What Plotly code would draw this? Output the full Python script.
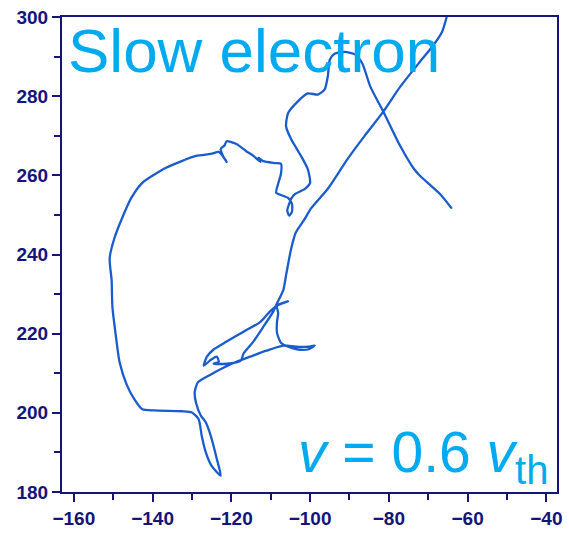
import plotly.graph_objects as go

# Trajectory of a slow electron (x, y positions in sequence)
track_x = [
    -64.0, -67.0, -72.1, -73.6, -77.1, -81.2, -84.7, -86.7, -88.5, -91.2,
    -93.8, -95.0, -95.5, -96.3, -98.0, -100.6, -103.1, -105.6, -106.1, -104.8,
    -102.3, -100.6, -100.0, -101.3, -103.8, -104.8, -105.3, -105.8, -105.3, -104.6,
    -104.6, -105.6, -108.6, -108.1, -107.4, -107.4, -108.9, -111.9, -113.1, -112.6,
    -114.4, -116.2, -118.7, -121.2, -121.7, -122.7, -122.2, -121.2, -122.2, -123.2,
    -125.2, -129.0, -136.6, -142.6, -145.4, -147.7, -149.7, -150.9, -150.4, -150.2,
    -149.2, -148.4, -146.6, -144.6, -142.6, -139.6, -132.5, -130.0, -128.3, -127.5,
    -126.5, -125.0, -122.7, -123.7, -125.2, -126.5, -127.8, -129.0, -129.3, -128.5,
    -125.2, -122.0, -118.7, -115.2, -111.1, -106.8, -103.6, -100.6, -98.8, -100.6,
    -103.1, -105.6, -107.4, -108.4, -108.4, -108.1, -108.4, -105.6, -108.1, -110.1,
    -112.6, -116.9, -121.2, -124.5, -126.2, -127.0, -125.2, -123.7, -123.2, -124.5,
    -121.2, -117.6, -116.9, -114.4, -111.9, -109.4, -108.4, -106.8, -106.1, -104.8,
    -103.6, -101.6, -99.8, -95.5, -90.5, -86.2, -81.7, -77.1, -72.1, -68.6,
    -66.5, -65.3,
]
track_y = [
    251.6, 255.3, 259.9, 261.6, 267.4, 275.7, 282.4, 288.2, 290.5, 291.2,
    290.7, 289.2, 285.0, 281.7, 280.4, 280.7, 278.7, 275.7, 272.4, 269.1,
    264.9, 261.6, 258.1, 256.6, 255.3, 254.1, 252.8, 251.1, 249.8, 250.8,
    252.8, 254.3, 255.6, 257.9, 260.4, 262.9, 263.1, 263.6, 264.4, 263.4,
    264.9, 266.1, 267.9, 268.6, 267.6, 266.6, 265.1, 263.4, 264.9, 265.9,
    265.4, 264.9, 261.9, 258.1, 254.3, 249.3, 244.1, 239.0, 233.5, 226.7,
    218.5, 212.9, 207.2, 203.4, 200.9, 200.6, 200.4, 200.1, 198.4, 194.1,
    190.1, 186.6, 184.1, 188.4, 194.1, 197.6, 199.4, 202.7, 205.2, 207.7,
    209.7, 211.4, 212.9, 214.2, 215.7, 217.0, 216.7, 216.7, 217.0, 216.0,
    216.0, 216.7, 217.7, 220.2, 223.0, 225.2, 227.0, 228.2, 227.3, 225.7,
    223.0, 220.5, 218.0, 216.0, 214.2, 211.9, 213.4, 214.2, 212.9, 212.4,
    212.4, 213.2, 215.0, 218.0, 221.7, 225.5, 227.7, 231.0, 234.8, 241.5,
    245.6, 248.6, 251.6, 256.6, 264.1, 269.9, 275.7, 282.4, 288.7, 293.0,
    296.2, 300.0,
]

x_ticks = [-160, -140, -120, -100, -80, -60, -40]
y_ticks = [180, 200, 220, 240, 260, 280, 300]

AXIS = "#14147a"
CYAN = "#00aaee"

fig = go.Figure()
fig.add_trace(go.Scatter(
    x=track_x, y=track_y, mode="lines",
    line=dict(color="#1a5ccc", width=2.3, shape="spline", smoothing=0.6),
    showlegend=False, hoverinfo="skip",
))

axis_common = dict(
    showgrid=False, zeroline=False, showline=True, mirror=True,
    linecolor=AXIS, linewidth=2, ticks="outside", ticklen=8, tickwidth=2,
    tickcolor=AXIS,
    tickfont=dict(family="Liberation Sans", size=19, color=AXIS, weight="bold"),
    minor=dict(ticks="outside", ticklen=6, tickwidth=2, tickcolor=AXIS, dtick=10),
)

fig.update_xaxes(range=[-163, -37.3], tickvals=x_ticks, **axis_common)
fig.update_yaxes(range=[180, 300], tickvals=y_ticks, **axis_common)

fig.add_annotation(
    text="Slow electron", xref="paper", yref="paper", x=0.008, y=0.93,
    xanchor="left", yanchor="middle", showarrow=False,
    font=dict(family="Liberation Sans", size=62, color=CYAN),
)
fig.add_annotation(
    text="<i>v</i> = 0.6 <i>v</i><sub><span style='font-size:40px'>th</span></sub>",
    xref="paper", yref="paper",
    x=0.986, y=0.075, xanchor="right", yanchor="middle", showarrow=False,
    font=dict(family="Liberation Sans", size=57, color=CYAN),
)

fig.update_layout(
    width=569, height=536,
    margin=dict(l=62, r=7, t=15, b=43),
    paper_bgcolor="white", plot_bgcolor="white",
)

fig.write_html("out.html")
